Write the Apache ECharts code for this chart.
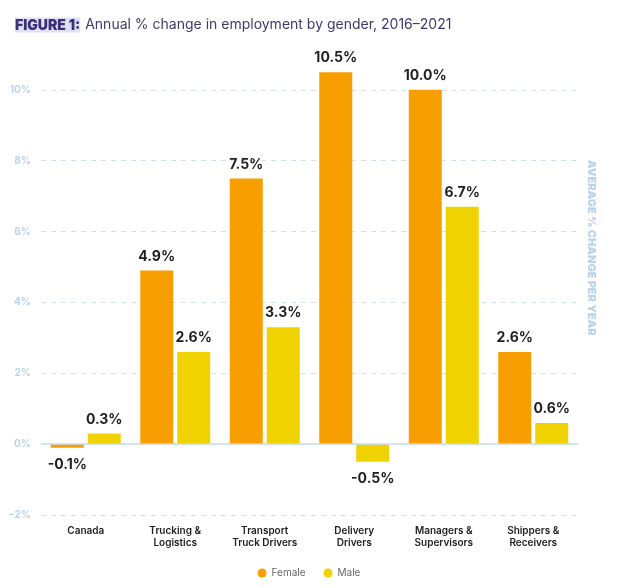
<!DOCTYPE html>
<html>
<head>
<meta charset="utf-8">
<title>Annual % change in employment by gender, 2016-2021</title>
<script src="https://cdn.jsdelivr.net/npm/echarts@6/dist/echarts.min.js"></script>
<style>
  html, body { margin: 0; padding: 0; background: #fff; }
  #chart { width: 618px; height: 588px; }
</style>
</head>
<body>
<div id="chart"></div>
<script>
// categories and values
var categories = ['Canada', 'Trucking &\nLogistics', 'Transport\nTruck Drivers', 'Delivery\nDrivers', 'Managers &\nSupervisors', 'Shippers &\nReceivers'];
var female = [-0.1, 4.9, 7.5, 10.5, 10.0, 2.6];
var male = [0.3, 2.6, 3.3, -0.5, 6.7, 0.6];
var yTicks = [-2, 0, 2, 4, 6, 8, 10];

var FONT = 'Inter, "Noto Sans", sans-serif';

var valueLabel = {
  show: true,
  position: 'top',
  distance: 7,
  fontFamily: FONT,
  fontSize: 14,
  fontWeight: 'bold',
  color: '#1f1f1f',
  formatter: function (p) { return p.value.toFixed(1) + '%'; }
};

// negative bars get their label underneath
function toData(arr) {
  return arr.map(function (v) {
    if (v < 0) {
      return { value: v, label: { position: 'bottom', distance: 10 } };
    }
    return v;
  });
}

var myChart = echarts.init(document.getElementById('chart'));
var option = {
  animation: false,
  title: {
    left: 10,
    top: 11,
    text: '{b|FIGURE 1:} {n|Annual % change in employment by gender, 2016\u20132021}',
    textStyle: {
      fontWeight: 'normal',
      rich: {
        b: {
          fontFamily: FONT,
          fontSize: 14,
          fontWeight: 900,
          color: '#3b2f7a',
          backgroundColor: '#dde2f6',
          padding: [1, 0, 0, 0]
        },
        n: {
          fontFamily: FONT,
          fontSize: 14,
          fontWeight: 'normal',
          color: '#3d3a6e'
        }
      }
    }
  },
  legend: {
    bottom: 5,
    left: 'center',
    icon: 'circle',
    itemWidth: 9,
    itemHeight: 9,
    itemGap: 18,
    textStyle: { fontFamily: FONT, fontSize: 10, color: '#666' },
    data: ['Female', 'Male']
  },
  grid: {
    left: 41,
    right: 40,
    top: 19,
    bottom: 73
  },
  xAxis: {
    type: 'category',
    data: categories,
    axisTick: { show: false },
    axisLine: { show: false },
    axisLabel: {
      fontFamily: FONT,
      fontSize: 10,
      fontWeight: 600,
      color: '#222',
      lineHeight: 12,
      margin: 10,
      interval: 0
    }
  },
  yAxis: [{
    type: 'value',
    min: -2,
    max: 12,
    interval: 2,
    axisLabel: {
      fontFamily: FONT,
      fontSize: 10,
      fontWeight: 'bold',
      color: '#b9d3ec',
      margin: 10,
      formatter: function (v) {
        if (yTicks.indexOf(v) < 0) return '';
        return (v < 0 ? '\u2212' + Math.abs(v) : v) + '%';
      }
    },
    axisLine: { show: false },
    axisTick: { show: false },
    splitLine: {
      lineStyle: { color: '#d3e1ee', type: [5, 5], width: 1 },
      showMaxLine: false
    }
  }],
  graphic: [{
    type: 'text',
    left: 586,
    top: 160,
    rotation: -Math.PI / 2,
    originX: 0,
    originY: 0,
    style: {
      text: 'AVERAGE % CHANGE PER YEAR',
      fontFamily: FONT,
      fontSize: 11,
      fontWeight: 900,
      fill: '#b9d3ec',
      x: 0,
      y: 0
    }
  }],
  series: [{
    name: 'Female',
    type: 'bar',
    data: toData(female),
    barWidth: 33,
    barGap: '12%',
    itemStyle: { color: '#f79e00' },
    label: valueLabel,
    markLine: {
      silent: true,
      symbol: 'none',
      label: { show: false },
      lineStyle: { color: '#c7dcef', type: 'solid', width: 1.5 },
      data: [{ yAxis: 0 }]
    }
  }, {
    name: 'Male',
    type: 'bar',
    data: toData(male),
    barWidth: 33,
    itemStyle: { color: '#f0d200' },
    label: valueLabel
  }]
};
myChart.setOption(option);
</script>
</body>
</html>
